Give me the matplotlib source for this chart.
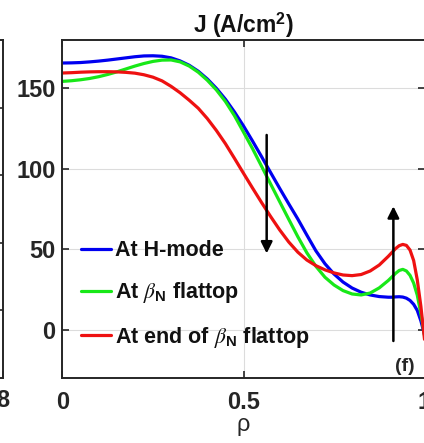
import matplotlib
matplotlib.use("Agg")
import matplotlib.pyplot as plt

plt.rcParams['font.family'] = ['Liberation Sans', 'DejaVu Sans']
plt.rcParams['mathtext.fontset'] = 'custom'
plt.rcParams['mathtext.rm'] = 'Liberation Sans:bold'
plt.rcParams['mathtext.bf'] = 'Liberation Sans:bold'
plt.rcParams['mathtext.it'] = 'STIXGeneral:italic'

# values
rho = [0.0, 0.025, 0.05, 0.075, 0.1, 0.125, 0.15, 0.175, 0.2, 0.225, 0.25, 0.275,
       0.3, 0.325, 0.35, 0.375, 0.4, 0.425, 0.45, 0.475, 0.5, 0.525, 0.55, 0.575,
       0.6, 0.625, 0.65, 0.675, 0.7, 0.725, 0.75, 0.775, 0.8, 0.825, 0.85, 0.875,
       0.9, 0.91, 0.92, 0.93, 0.94, 0.95, 0.96, 0.97, 0.98, 0.99, 1.0]
j_hmode = [165.7, 165.8, 166.0, 166.4, 166.9, 167.5, 168.2, 168.9, 169.6, 170.1, 170.2, 169.9,
           168.9, 167.0, 164.3, 160.6, 155.8, 150.0, 143.2, 135.3, 126.6, 117.2, 107.5, 97.6,
           87.8, 78.2, 68.8, 58.8, 49.0, 41.0, 34.6, 29.6, 25.9, 23.3, 21.6, 20.6,
           20.2, 20.2, 20.4, 20.5, 20.3, 19.6, 18.2, 15.8, 12.0, 5.5, -3.0]
j_flattop = [154.3, 154.7, 155.3, 156.1, 157.2, 158.6, 160.2, 162.0, 163.8, 165.4, 166.7, 167.5,
             167.6, 166.4, 163.8, 160.0, 155.0, 149.0, 141.8, 133.0, 122.8, 112.5, 101.5, 90.5,
             79.5, 68.6, 57.8, 47.8, 39.4, 32.6, 27.8, 24.3, 22.2, 21.6, 22.8, 26.0,
             30.6, 32.8, 35.0, 36.8, 37.5, 36.5, 33.8, 29.0, 21.5, 10.0, -3.5]
j_end = [159.5, 159.7, 160.0, 160.2, 160.3, 160.3, 160.2, 159.9, 159.4, 158.4, 156.9, 154.6,
         151.2, 147.2, 142.6, 137.6, 131.2, 123.8, 115.6, 106.5, 97.2, 88.0, 79.0, 70.3,
         62.0, 54.5, 48.2, 43.3, 39.8, 37.2, 35.3, 34.0, 33.6, 34.3, 36.5, 40.2,
         45.6, 48.0, 50.4, 52.2, 53.0, 52.4, 49.5, 43.0, 31.0, 14.5, -6.0]

labels = ['At H-mode', r'At $\beta_{\mathbf{N}}$ flattop', r'At end of $\beta_{\mathbf{N}}$ flattop']
colors = ['#0000f0', '#18e818', '#ee1111']

# arrows: (rho, start J, end J)
arrows = [(0.564, 121, 47.4), (0.914, -7, 76.7)]

xticks = [0, 0.5, 1]
yticks = [0, 50, 100, 150]

dark = '#262626'
fig = plt.figure(figsize=(4.24, 4.43), dpi=100)

# right edge of the neighbouring panel
ax0 = fig.add_axes([-0.5, 0.1467, 0.5078, 0.763])
ax0.set_xlim(0, 8)
ax0.set_ylim(0, 1)
ax0.set_xticks([8])
ax0.set_xticklabels(['8'])
ax0.set_yticks([0.2, 0.4, 0.6, 0.8])
ax0.set_yticklabels([])
ax0.tick_params(direction='in', length=5, width=1.2, color=dark, right=True,
                labelsize=17, labelcolor=dark, pad=8)
for t in ax0.get_xticklabels():
    t.set_fontweight('bold')
for s in ax0.spines.values():
    s.set_linewidth(1.4)
    s.set_color(dark)

ax = fig.add_axes([0.1474, 0.1467, 0.8538, 0.763])
for y, lab, c in zip([j_hmode, j_flattop, j_end], labels, colors):
    ax.plot(rho, y, color=c, lw=2.3, label=lab, solid_capstyle='round')

for x, y0, y1 in arrows:
    ax.annotate('', xy=(x, y1), xytext=(x, y0),
                arrowprops=dict(arrowstyle='-|>', color='k', lw=1.8, mutation_scale=17,
                                shrinkA=0, shrinkB=0))

ax.text(0.946, -23, '(f)', fontsize=14, fontweight='bold', ha='center', va='center', color=dark)

ax.set_xlim(0, 1)
ax.set_ylim(-30, 180)
ax.set_xticks(xticks)
ax.set_xticklabels(['0', '0.5', '1'])
ax.set_yticks(yticks)
ax.grid(True, color='#dcdcdc', lw=0.8)
ax.tick_params(direction='in', length=5, width=1.2, color=dark, top=True, right=True,
               labelsize=17, labelcolor=dark)
ax.tick_params(axis='x', pad=9)
ax.tick_params(axis='y', pad=5)
for t in ax.get_xticklabels() + ax.get_yticklabels():
    t.set_fontweight('bold')
for s in ax.spines.values():
    s.set_linewidth(1.4)
    s.set_color(dark)

ax.set_title(r'J (A/cm$^{\mathbf{2}}$)', fontsize=16.5, fontweight='bold', pad=5, color='#111111')
ax.set_xlabel(r'ρ', fontsize=17, labelpad=0, color=dark)

leg = ax.legend(loc='upper left', bbox_to_anchor=(0.051, 0.408), frameon=False,
                prop={'weight': 'bold', 'size': 15.5}, handlelength=1.4,
                handletextpad=0.2, labelspacing=0.9, borderaxespad=0, borderpad=0)
for t in leg.get_texts():
    t.set_color('#111111')

fig.savefig('out.png', dpi=100)
